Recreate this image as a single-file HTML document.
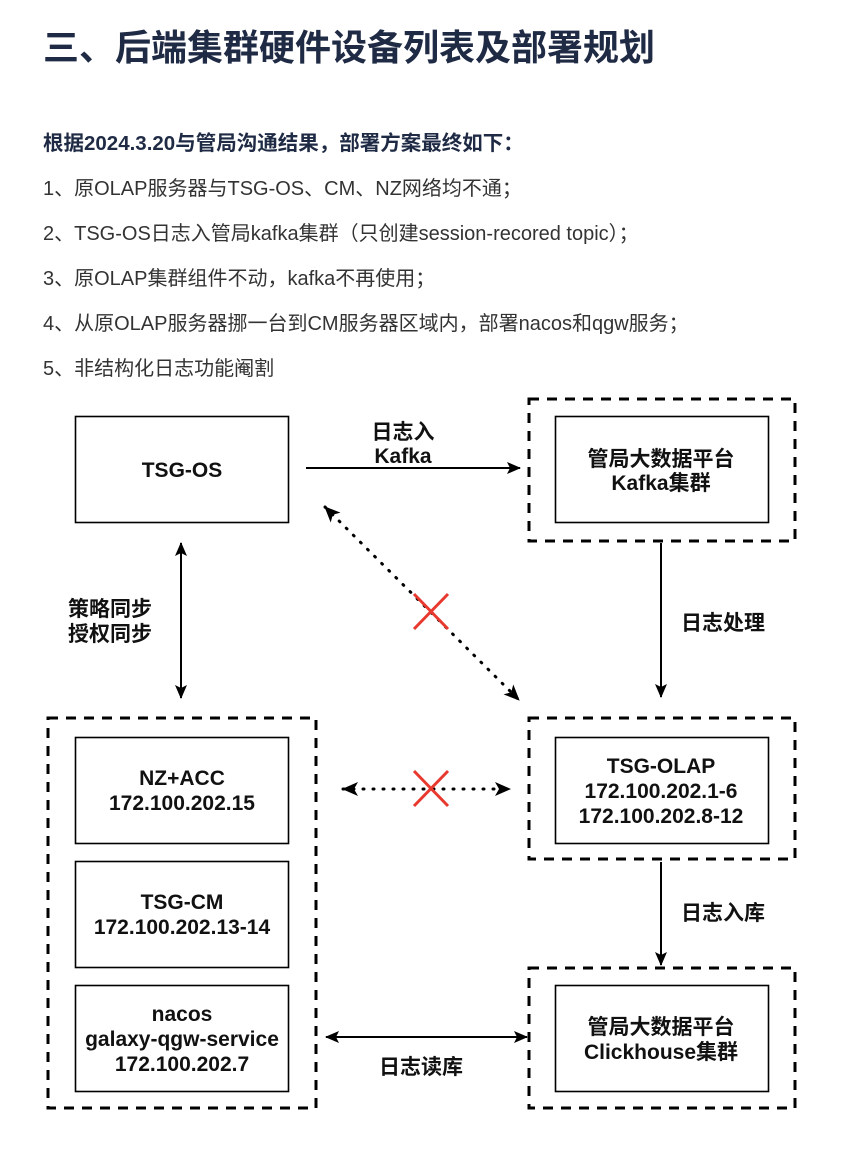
<!DOCTYPE html>
<html><head><meta charset="utf-8"><style>
html,body{margin:0;padding:0;background:#fff;width:855px;height:1161px;overflow:hidden;}
svg{display:block}
.t{font-family:"Liberation Sans","Noto Sans CJK SC",sans-serif;}
</style></head><body>
<svg width="855" height="1161" viewBox="0 0 855 1161" xmlns="http://www.w3.org/2000/svg">
<defs>
<marker id="ah" viewBox="0 0 14 12" refX="13" refY="6" markerWidth="14" markerHeight="12" markerUnits="userSpaceOnUse" orient="auto-start-reverse">
<path d="M0,0 L14,6 L0,12 L3,6 Z" fill="#000"/></marker>
<marker id="ah2" viewBox="0 0 16 14" refX="15" refY="7" markerWidth="16" markerHeight="14" markerUnits="userSpaceOnUse" orient="auto-start-reverse">
<path d="M0,0 L16,7 L0,14 L4,7 Z" fill="#000"/></marker>
</defs>
<g class="t">
<text x="43" y="60" font-size="36" font-weight="bold" fill="#1f2a44">三、后端集群硬件设备列表及部署规划</text>
<text x="43" y="150" font-size="20.5" font-weight="bold" fill="#1f2a44">根据2024.3.20与管局沟通结果，部署方案最终如下：</text>
<g font-size="20" fill="#333">
<text x="43" y="195">1、原OLAP服务器与TSG-OS、CM、NZ网络均不通；</text>
<text x="43" y="240">2、TSG-OS日志入管局kafka集群（只创建session-recored topic）；</text>
<text x="43" y="285">3、原OLAP集群组件不动，kafka不再使用；</text>
<text x="43" y="330">4、从原OLAP服务器挪一台到CM服务器区域内，部署nacos和qgw服务；</text>
<text x="43" y="375">5、非结构化日志功能阉割</text>
</g>
</g>
<g fill="none" stroke="#000">
<g stroke-width="3" stroke-dasharray="10,8">
<rect x="529" y="399" width="266" height="142"/>
<rect x="48" y="718" width="268" height="390"/>
<rect x="529" y="718" width="266" height="141"/>
<rect x="529" y="968" width="266" height="140"/>
</g>
<g stroke-width="1.6">
<rect x="75.5" y="416.5" width="213" height="106"/>
<rect x="555.5" y="416.5" width="213" height="106"/>
<rect x="75.5" y="737.5" width="213" height="106"/>
<rect x="75.5" y="861.5" width="213" height="106"/>
<rect x="75.5" y="985.5" width="213" height="106"/>
<rect x="555.5" y="737.5" width="213" height="106"/>
<rect x="555.5" y="985.5" width="213" height="106"/>
</g>
<g stroke-width="2">
<line x1="306" y1="468" x2="520" y2="468" marker-end="url(#ah)"/>
<line x1="181" y1="543" x2="181" y2="698" marker-start="url(#ah)" marker-end="url(#ah)"/>
<line x1="661" y1="543" x2="661" y2="697" marker-end="url(#ah)"/>
<line x1="661" y1="862" x2="661" y2="965" marker-end="url(#ah)"/>
<line x1="326" y1="1037" x2="527" y2="1037" marker-start="url(#ah)" marker-end="url(#ah)"/>
</g>
<g stroke-width="3" stroke-dasharray="1,9" stroke-linecap="round">
<line x1="325" y1="507" x2="519" y2="700" marker-start="url(#ah2)" marker-end="url(#ah2)"/>
<line x1="343" y1="789" x2="510" y2="789" marker-start="url(#ah2)" marker-end="url(#ah2)"/>
</g>
<g stroke="#e8392f" stroke-width="3">
<path d="M414,594 L448,629 M448,594 L414,629"/>
<path d="M414,771 L448,806 M448,771 L414,806"/>
</g>
</g>
<g class="t" font-size="21" font-weight="bold" fill="#111" text-anchor="middle">
<text x="182" y="477">TSG-OS</text>
<text x="661" y="466">管局大数据平台</text>
<text x="661" y="490">Kafka集群</text>
<text x="403" y="439">日志入</text>
<text x="403" y="463">Kafka</text>
<text x="110" y="616">策略同步</text>
<text x="110" y="641">授权同步</text>
<text x="723" y="630">日志处理</text>
<text x="182" y="785">NZ+ACC</text>
<text x="182" y="810">172.100.202.15</text>
<text x="182" y="909">TSG-CM</text>
<text x="182" y="934">172.100.202.13-14</text>
<text x="182" y="1021">nacos</text>
<text x="182" y="1046">galaxy-qgw-service</text>
<text x="182" y="1071">172.100.202.7</text>
<text x="661" y="773">TSG-OLAP</text>
<text x="661" y="798">172.100.202.1-6</text>
<text x="661" y="823">172.100.202.8-12</text>
<text x="723" y="920">日志入库</text>
<text x="661" y="1034">管局大数据平台</text>
<text x="661" y="1059">Clickhouse集群</text>
<text x="421" y="1074">日志读库</text>
</g>
</svg>
</body></html>
